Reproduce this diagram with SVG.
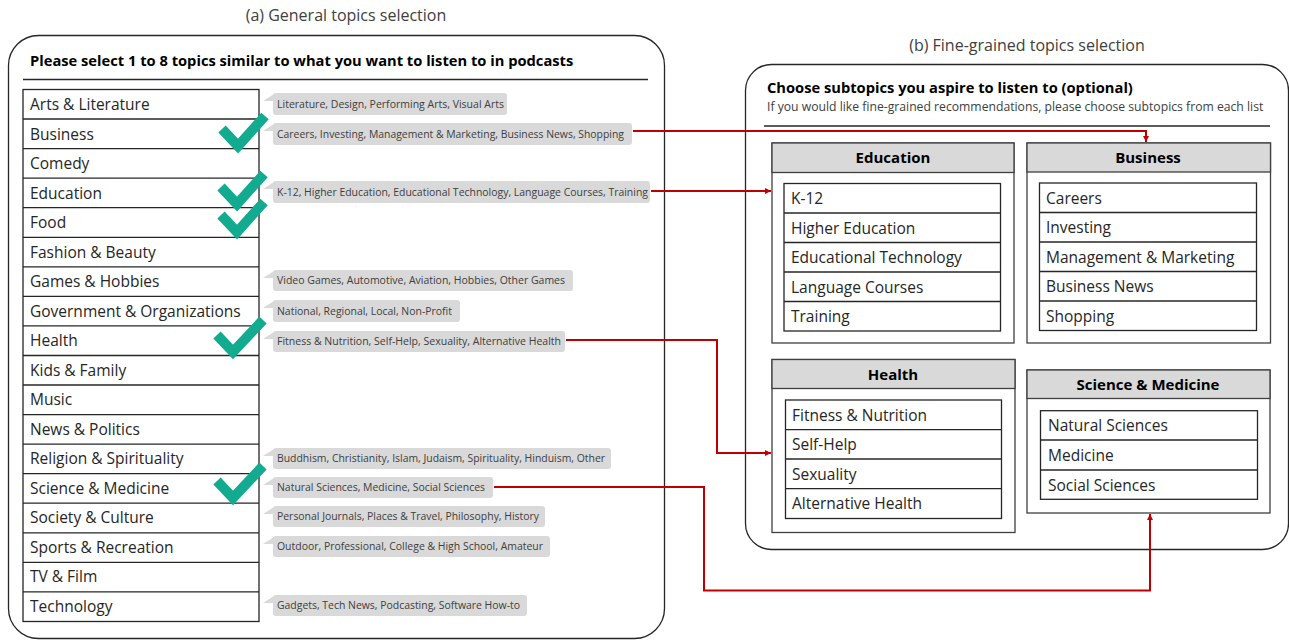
<svg xmlns="http://www.w3.org/2000/svg" width="1289" height="641" viewBox="0 0 1289 641">
<defs>
<style>
text{font-family:"Open Sans","Noto Sans","Liberation Sans",sans-serif;}
.cap{font-size:16px;fill:#404040;text-anchor:middle;}
.title{font-size:14.7px;font-weight:bold;fill:#000;}
.sub{font-size:12.2px;fill:#404040;}
.item{font-size:15.5px;fill:#262626;}
.tag{fill:#d9d9d9;}
.tagt{font-size:10.4px;fill:#404040;}
.panel{fill:#fff;stroke:#262626;stroke-width:1.3;}
.box{fill:#fff;stroke:#404040;stroke-width:1.3;}
.hdr{fill:#d9d9d9;stroke:#404040;stroke-width:1.3;}
.hdrt{font-size:15px;font-weight:bold;fill:#000;text-anchor:middle;}
.list{fill:#fff;stroke:#262626;stroke-width:1.3;}
.sep{stroke:#262626;stroke-width:1.3;}
.rule{stroke:#262626;stroke-width:1.3;}
.chk{fill:none;stroke:#12ab90;stroke-width:10;stroke-linejoin:miter;stroke-linecap:butt;}
.con{fill:none;stroke:#c00000;stroke-width:2;}
</style>
<marker id="ah" viewBox="0 0 10 10" refX="10" refY="5" markerWidth="6" markerHeight="6" markerUnits="userSpaceOnUse" orient="auto">
<path d="M0,0 L10,5 L0,10 z" fill="#c00000"/>
</marker>
</defs>

<text class="cap" x="346" y="21">(a) General topics selection</text>
<text class="cap" x="1027" y="51">(b) Fine-grained topics selection</text>

<g id="panel-a">
<rect class="panel" x="8.5" y="35.5" width="656" height="603" rx="30" ry="30"/>
<text class="title" x="30" y="66">Please select 1 to 8 topics similar to what you want to listen to in podcasts</text>
<line class="rule" x1="23" y1="79.5" x2="648" y2="79.5"/>
</g>

<g id="topic-list">
<rect class="list" x="23" y="89.5" width="236" height="532"/>
<line class="sep" x1="23" y1="119" x2="259" y2="119"/>
<line class="sep" x1="23" y1="148.6" x2="259" y2="148.6"/>
<line class="sep" x1="23" y1="178.2" x2="259" y2="178.2"/>
<line class="sep" x1="23" y1="207.7" x2="259" y2="207.7"/>
<line class="sep" x1="23" y1="237.3" x2="259" y2="237.3"/>
<line class="sep" x1="23" y1="266.8" x2="259" y2="266.8"/>
<line class="sep" x1="23" y1="296.4" x2="259" y2="296.4"/>
<line class="sep" x1="23" y1="325.9" x2="259" y2="325.9"/>
<line class="sep" x1="23" y1="355.5" x2="259" y2="355.5"/>
<line class="sep" x1="23" y1="385" x2="259" y2="385"/>
<line class="sep" x1="23" y1="414.6" x2="259" y2="414.6"/>
<line class="sep" x1="23" y1="444.1" x2="259" y2="444.1"/>
<line class="sep" x1="23" y1="473.7" x2="259" y2="473.7"/>
<line class="sep" x1="23" y1="503.2" x2="259" y2="503.2"/>
<line class="sep" x1="23" y1="532.8" x2="259" y2="532.8"/>
<line class="sep" x1="23" y1="562.3" x2="259" y2="562.3"/>
<line class="sep" x1="23" y1="591.9" x2="259" y2="591.9"/>
<text class="item" x="30" y="110">Arts &amp; Literature</text>
<text class="item" x="30" y="139.5">Business</text>
<text class="item" x="30" y="169">Comedy</text>
<text class="item" x="30" y="198.5">Education</text>
<text class="item" x="30" y="228">Food</text>
<text class="item" x="30" y="257.5">Fashion &amp; Beauty</text>
<text class="item" x="30" y="287">Games &amp; Hobbies</text>
<text class="item" x="30" y="316.5">Government &amp; Organizations</text>
<text class="item" x="30" y="346">Health</text>
<text class="item" x="30" y="375.5">Kids &amp; Family</text>
<text class="item" x="30" y="405">Music</text>
<text class="item" x="30" y="434.5">News &amp; Politics</text>
<text class="item" x="30" y="464">Religion &amp; Spirituality</text>
<text class="item" x="30" y="493.5">Science &amp; Medicine</text>
<text class="item" x="30" y="523">Society &amp; Culture</text>
<text class="item" x="30" y="552.5">Sports &amp; Recreation</text>
<text class="item" x="30" y="582">TV &amp; Film</text>
<text class="item" x="30" y="611.5">Technology</text>
</g>

<g id="tags">
<g id="tag-arts"><rect class="tag" x="273" y="93" width="234" height="22" rx="3"/><path class="tag" d="M274,94 L263,101 L274,101 z"/><text class="tagt" x="277" y="107.5" textLength="227" lengthAdjust="spacingAndGlyphs">Literature, Design, Performing Arts, Visual Arts</text></g>
<g id="tag-business"><rect class="tag" x="273" y="123" width="359" height="22" rx="3"/><path class="tag" d="M274,124 L263,131 L274,131 z"/><text class="tagt" x="277" y="137.5" textLength="347" lengthAdjust="spacingAndGlyphs">Careers, Investing, Management &amp; Marketing, Business News, Shopping</text></g>
<g id="tag-education"><rect class="tag" x="273" y="181" width="377" height="22" rx="3"/><path class="tag" d="M274,182 L263,189 L274,189 z"/><text class="tagt" x="277" y="195.5" textLength="371" lengthAdjust="spacingAndGlyphs">K-12, Higher Education, Educational Technology, Language Courses, Training</text></g>
<g id="tag-games"><rect class="tag" x="273" y="270" width="300" height="21" rx="3"/><path class="tag" d="M274,271 L263,278 L274,278 z"/><text class="tagt" x="277" y="284" textLength="288" lengthAdjust="spacingAndGlyphs">Video Games, Automotive, Aviation, Hobbies, Other Games</text></g>
<g id="tag-government"><rect class="tag" x="273" y="300" width="187" height="22" rx="3"/><path class="tag" d="M274,301 L263,308 L274,308 z"/><text class="tagt" x="277" y="314.5" textLength="175" lengthAdjust="spacingAndGlyphs">National, Regional, Local, Non-Profit</text></g>
<g id="tag-health"><rect class="tag" x="273" y="331" width="292" height="21" rx="3"/><path class="tag" d="M274,332 L263,339 L274,339 z"/><text class="tagt" x="277" y="345" textLength="284" lengthAdjust="spacingAndGlyphs">Fitness &amp; Nutrition, Self-Help, Sexuality, Alternative Health</text></g>
<g id="tag-religion"><rect class="tag" x="273" y="448" width="338" height="21" rx="3"/><path class="tag" d="M274,449 L263,456 L274,456 z"/><text class="tagt" x="277" y="462" textLength="328" lengthAdjust="spacingAndGlyphs">Buddhism,  Christianity, Islam, Judaism, Spirituality, Hinduism, Other</text></g>
<g id="tag-science"><rect class="tag" x="273" y="477" width="220" height="21" rx="3"/><path class="tag" d="M274,478 L263,485 L274,485 z"/><text class="tagt" x="277" y="491" textLength="208" lengthAdjust="spacingAndGlyphs">Natural Sciences, Medicine, Social Sciences</text></g>
<g id="tag-society"><rect class="tag" x="273" y="506" width="272" height="21" rx="3"/><path class="tag" d="M274,507 L263,514 L274,514 z"/><text class="tagt" x="277" y="520" textLength="262" lengthAdjust="spacingAndGlyphs">Personal Journals, Places &amp; Travel, Philosophy, History</text></g>
<g id="tag-sports"><rect class="tag" x="273" y="536" width="277" height="21" rx="3"/><path class="tag" d="M274,537 L263,544 L274,544 z"/><text class="tagt" x="277" y="550" textLength="266" lengthAdjust="spacingAndGlyphs">Outdoor, Professional, College &amp; High School, Amateur</text></g>
<g id="tag-technology"><rect class="tag" x="273" y="595" width="254" height="21" rx="3"/><path class="tag" d="M274,596 L263,603 L274,603 z"/><text class="tagt" x="277" y="609" textLength="243" lengthAdjust="spacingAndGlyphs">Gadgets, Tech News, Podcasting, Software How-to</text></g>
</g>

<g id="checks">
<polyline class="chk" points="222,129 238,146 265,116"/>
<polyline class="chk" points="221,187 237,204 264,174"/>
<polyline class="chk" points="221,215 237,232 264,202"/>
<polyline class="chk" points="217,335 233,352 263,320"/>
<polyline class="chk" points="217,481 233,498 263,466"/>
</g>

<g id="panel-b">
<rect class="panel" x="745.5" y="64.5" width="543" height="485" rx="26" ry="26"/>
<text class="title" x="767" y="93">Choose subtopics you aspire to listen to (optional)</text>
<text class="sub" x="767" y="111">If you would like fine-grained recommendations, please choose subtopics from each list</text>
<line class="rule" x1="764" y1="126" x2="1270" y2="126"/>
</g>

<g id="box-education">
<rect class="box" x="772" y="143" width="242" height="200"/>
<rect class="hdr" x="772" y="143" width="242" height="29.5"/>
<text class="hdrt" x="893" y="163">Education</text>
<rect class="list" x="784" y="183.5" width="216.5" height="147.5"/>
<line class="sep" x1="784" y1="213" x2="1000.5" y2="213"/>
<line class="sep" x1="784" y1="242.5" x2="1000.5" y2="242.5"/>
<line class="sep" x1="784" y1="272" x2="1000.5" y2="272"/>
<line class="sep" x1="784" y1="301.5" x2="1000.5" y2="301.5"/>
<text class="item" x="791" y="204">K-12</text>
<text class="item" x="791" y="233.5">Higher Education</text>
<text class="item" x="791" y="263">Educational Technology</text>
<text class="item" x="791" y="292.5">Language Courses</text>
<text class="item" x="791" y="322">Training</text>
</g>

<g id="box-business">
<rect class="box" x="1027" y="143" width="243.5" height="200"/>
<rect class="hdr" x="1027" y="143" width="243.5" height="29"/>
<text class="hdrt" x="1148" y="163">Business</text>
<rect class="list" x="1039.5" y="183" width="217" height="147.5"/>
<line class="sep" x1="1039.5" y1="212.5" x2="1256.5" y2="212.5"/>
<line class="sep" x1="1039.5" y1="242" x2="1256.5" y2="242"/>
<line class="sep" x1="1039.5" y1="271.5" x2="1256.5" y2="271.5"/>
<line class="sep" x1="1039.5" y1="301" x2="1256.5" y2="301"/>
<text class="item" x="1046" y="203.5">Careers</text>
<text class="item" x="1046" y="233">Investing</text>
<text class="item" x="1046" y="262.5">Management &amp; Marketing</text>
<text class="item" x="1046" y="292">Business News</text>
<text class="item" x="1046" y="321.5">Shopping</text>
</g>

<g id="box-health">
<rect class="box" x="772" y="359.5" width="243" height="173"/>
<rect class="hdr" x="772" y="359.5" width="243" height="29"/>
<text class="hdrt" x="893" y="379.5">Health</text>
<rect class="list" x="785.5" y="400" width="216" height="118.5"/>
<line class="sep" x1="785.5" y1="429.7" x2="1001.5" y2="429.7"/>
<line class="sep" x1="785.5" y1="459" x2="1001.5" y2="459"/>
<line class="sep" x1="785.5" y1="488.7" x2="1001.5" y2="488.7"/>
<text class="item" x="792" y="420.5">Fitness &amp; Nutrition</text>
<text class="item" x="792" y="450">Self-Help</text>
<text class="item" x="792" y="479.5">Sexuality</text>
<text class="item" x="792" y="509">Alternative Health</text>
</g>

<g id="box-science">
<rect class="box" x="1027" y="370" width="243" height="143"/>
<rect class="hdr" x="1027" y="370" width="243" height="28.5"/>
<text class="hdrt" x="1148" y="390">Science &amp; Medicine</text>
<rect class="list" x="1040.5" y="410.7" width="217" height="88.6"/>
<line class="sep" x1="1040.5" y1="440" x2="1257.5" y2="440"/>
<line class="sep" x1="1040.5" y1="470" x2="1257.5" y2="470"/>
<text class="item" x="1048" y="431">Natural Sciences</text>
<text class="item" x="1048" y="460.5">Medicine</text>
<text class="item" x="1048" y="490.5">Social Sciences</text>
</g>

<g id="connectors">
<polyline class="con" marker-end="url(#ah)" points="633,131 1146,131 1146,142"/>
<polyline class="con" marker-end="url(#ah)" points="651,191 771,191"/>
<polyline class="con" marker-end="url(#ah)" points="566,340 717,340 717,453 771,453"/>
<polyline class="con" marker-end="url(#ah)" points="494,487 704,487 704,590.5 1150,590.5 1150,514"/>
</g>
</svg>
